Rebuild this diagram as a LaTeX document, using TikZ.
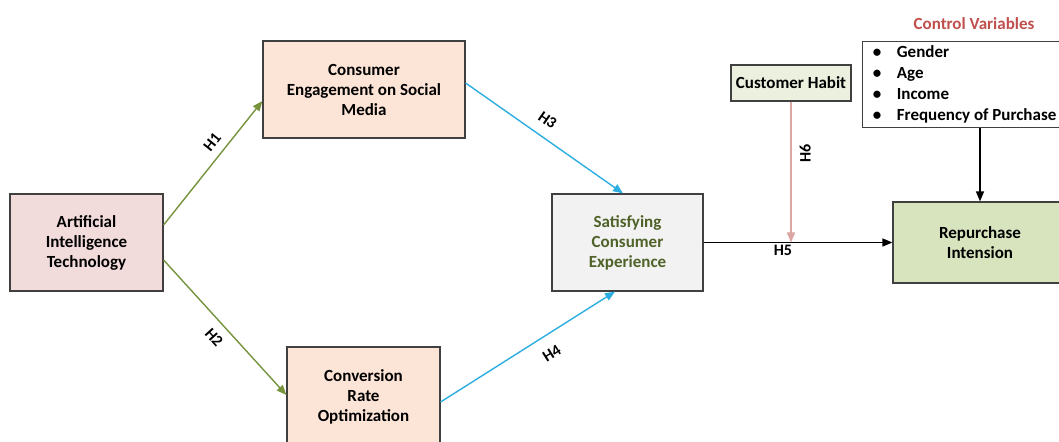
\documentclass[tikz,border=0pt]{standalone}
\usepackage{fontspec}
\setmainfont{Carlito}
\usetikzlibrary{arrows.meta}

\definecolor{edgegray}{HTML}{404040}
\definecolor{aifill}{HTML}{F2DCDB}
\definecolor{peach}{HTML}{FCE4D6}
\definecolor{expfill}{HTML}{F2F2F2}
\definecolor{habitfill}{HTML}{EBF1DE}
\definecolor{repfill}{HTML}{D7E4BD}
\definecolor{olivetext}{HTML}{4F6228}
\definecolor{ctrlred}{HTML}{C0504D}
\definecolor{hgreen}{HTML}{77933C}
\definecolor{hblue}{HTML}{2DAEE0}
\definecolor{hpink}{HTML}{DBA5A3}

\tikzset{
  box/.style={draw=edgegray, line width=0.6pt, align=center, inner sep=0pt,
    font=\fontsize{8.5}{10}\selectfont\bfseries},
  hyp/.style={line width=0.7pt, -{Triangle[length=5pt,width=4pt]}},
  hlabel/.style={font=\fontsize{8}{9}\selectfont\bfseries, text=black, sloped}
}

\begin{document}
\begin{tikzpicture}[x=0.5pt,y=-0.5pt]
  \fill[white] (0,0) rectangle (1059,442);
  \useasboundingbox (0,0) rectangle (1059,442);

  \node[box, fill=aifill, minimum width=76.5pt, minimum height=48.5pt] (ai) at (86.5,242.5)
    {Artificial\\Intelligence\\Technology};
  \node[box, fill=peach, minimum width=101pt, minimum height=48.5pt] (ce) at (364,89.5)
    {Consumer\\Engagement on Social\\Media};
  \node[box, fill=peach, minimum width=76.5pt, minimum height=50pt] (cro) at (363.5,397)
    {Conversion\\Rate\\Optimization};
  \node[box, fill=expfill, text=olivetext, minimum width=75.5pt, minimum height=48.5pt] (sce) at (627.5,242.5)
    {Satisfying\\Consumer\\Experience};
  \node[box, fill=habitfill, minimum width=60pt, minimum height=18pt] (ch) at (791,83)
    {Customer Habit};
  \node[box, fill=repfill, minimum width=87pt, minimum height=40.5pt] (rep) at (980,242.5)
    {Repurchase\\Intension};
  \node[box, fill=white, anchor=north west, align=left, minimum width=102pt,
    minimum height=43pt, font=\fontsize{8.5}{10.5}\selectfont\bfseries] (ctrl) at (862,41)
    {\makebox[12pt][l]{\textbullet}Gender\\
     \makebox[12pt][l]{\textbullet}Age\\
     \makebox[12pt][l]{\textbullet}Income\\
     \makebox[12pt][l]{\textbullet}Frequency of Purchase};
  \node[font=\fontsize{8.5}{10}\selectfont\bfseries, text=ctrlred] (ctrltitle) at (974,24)
    {Control Variables};

  \coordinate (meet) at (ch.south |- sce.east);

  \draw[hyp, hgreen] ([yshift=8.75pt]ai.east) -- node[hlabel, above=0.5pt, pos=0.6] {H1} ([yshift=-5.75pt]ce.west);
  \draw[hyp, hgreen] ([yshift=-8.75pt]ai.east) -- node[hlabel, below=1pt, pos=0.5] {H2} ([yshift=1pt]cro.west);
  \draw[hyp, hblue] ([yshift=3.25pt]ce.east) -- node[hlabel, above=2pt, pos=0.46] {H3} ([xshift=-2.25pt]sce.north);
  \draw[hyp, hblue] ([yshift=-2.5pt]cro.east) -- node[hlabel, below=3pt, pos=0.58] {H4} ([xshift=-6.25pt]sce.south);
  \draw[hyp, black] (sce.east) -- node[hlabel, below, pos=0.42, inner sep=1pt] {H5} (rep.west);
  \draw[hyp, hpink] (ch.south) -- node[font=\fontsize{8}{9}\selectfont\bfseries, text=black, rotate=90,
    anchor=north, inner sep=4pt, pos=0.37] {H6} (meet);
  \draw[hyp, black] (rep.north |- ctrl.south) -- (rep.north);
\end{tikzpicture}
\end{document}
